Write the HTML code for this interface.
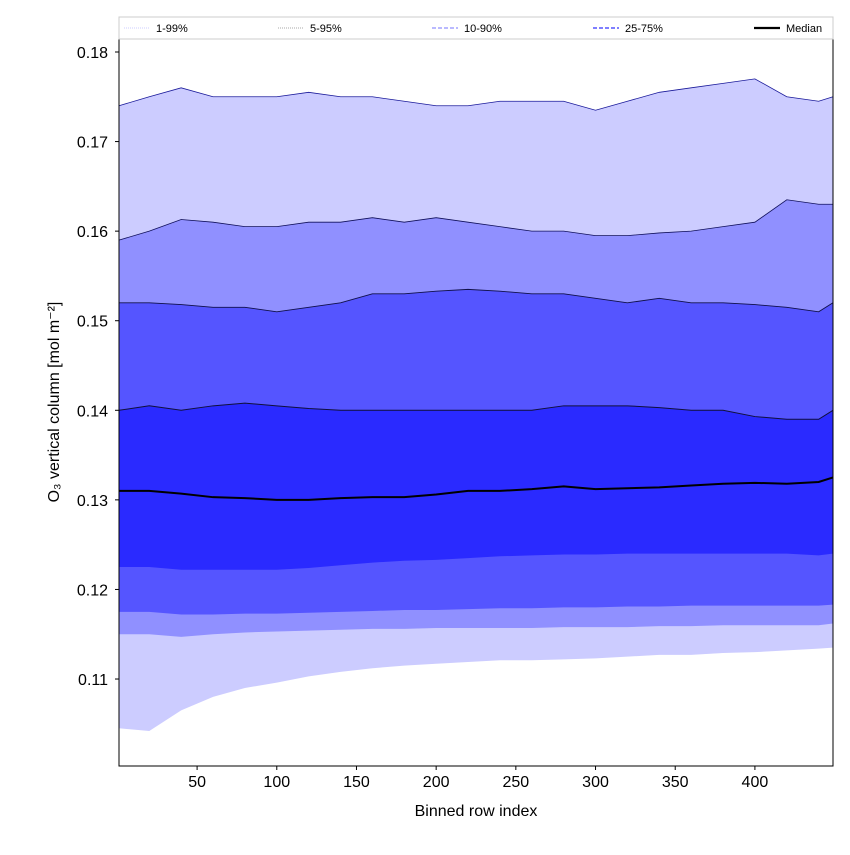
<!DOCTYPE html>
<html><head><meta charset="utf-8"><style>
body{margin:0;background:#fff;font-family:"Liberation Sans","DejaVu Sans",sans-serif;}
svg text{font-family:"Liberation Sans","DejaVu Sans",sans-serif;}
</style></head><body>
<svg id="chart" width="850" height="850" xmlns="http://www.w3.org/2000/svg">
<rect width="850" height="850" fill="#fff"/>
<g id="bands"></g>
<g id="axes"></g>
<g id="legend"></g>
</svg>
<script>
const xs=[1,20,40,60,80,100,120,140,160,180,200,220,240,260,280,300,320,340,360,380,400,420,440,449];
const p99=[0.174,0.175,0.176,0.175,0.175,0.175,0.1755,0.175,0.175,0.1745,0.174,0.174,0.1745,0.1745,0.1745,0.1735,0.1745,0.1755,0.176,0.1765,0.177,0.175,0.1745,0.175];
const p95=[0.159,0.160,0.1613,0.161,0.1605,0.1605,0.161,0.161,0.1615,0.161,0.1615,0.161,0.1605,0.160,0.160,0.1595,0.1595,0.1598,0.160,0.1605,0.161,0.1635,0.163,0.163];
const p90=[0.152,0.152,0.1518,0.1515,0.1515,0.151,0.1515,0.152,0.153,0.153,0.1533,0.1535,0.1533,0.153,0.153,0.1525,0.152,0.1525,0.152,0.152,0.1518,0.1515,0.151,0.152];
const p75=[0.140,0.1405,0.140,0.1405,0.1408,0.1405,0.1402,0.140,0.140,0.140,0.140,0.140,0.140,0.140,0.1405,0.1405,0.1405,0.1403,0.140,0.140,0.1393,0.139,0.139,0.140];
const median=[0.131,0.131,0.1307,0.1303,0.1302,0.130,0.130,0.1302,0.1303,0.1303,0.1306,0.131,0.131,0.1312,0.1315,0.1312,0.1313,0.1314,0.1316,0.1318,0.1319,0.1318,0.132,0.1325];
const p25=[0.1225,0.1225,0.1222,0.1222,0.1222,0.1222,0.1224,0.1227,0.1230,0.1232,0.1233,0.1235,0.1237,0.1238,0.1239,0.1239,0.1240,0.1240,0.1240,0.1240,0.1240,0.1240,0.1238,0.1240];
const p10=[0.1175,0.1175,0.1172,0.1172,0.1173,0.1173,0.1174,0.1175,0.1176,0.1177,0.1177,0.1178,0.1179,0.1179,0.1180,0.1180,0.1181,0.1181,0.1182,0.1182,0.1182,0.1182,0.1182,0.1183];
const p5=[0.1150,0.1150,0.1147,0.1150,0.1152,0.1153,0.1154,0.1155,0.1156,0.1156,0.1157,0.1157,0.1157,0.1157,0.1158,0.1158,0.1158,0.1159,0.1159,0.1160,0.1160,0.1160,0.1160,0.1162];
const p1=[0.1045,0.1042,0.1065,0.108,0.109,0.1096,0.1103,0.1108,0.1112,0.1115,0.1117,0.1119,0.1121,0.1121,0.1122,0.1123,0.1125,0.1127,0.1127,0.1129,0.1130,0.1132,0.1134,0.1135];
const xTicks=[50,100,150,200,250,300,350,400];
const yTicks=[0.11,0.12,0.13,0.14,0.15,0.16,0.17,0.18];

const L=119,R=833,T=39,B=766;
const X0=1,X1=449,Y0=0.10029,Y1=0.18145;
const sx=v=>L+(v-X0)/(X1-X0)*(R-L);
const sy=v=>B-(v-Y0)/(Y1-Y0)*(B-T);
const NS="http://www.w3.org/2000/svg";
function mk(tag,attrs,parent){const e=document.createElementNS(NS,tag);for(const k in attrs)e.setAttribute(k,attrs[k]);parent.appendChild(e);return e;}
const bands=document.getElementById('bands'),axes=document.getElementById('axes'),leg=document.getElementById('legend');
function band(lo,hi,color,name){
  let d='M'+xs.map((x,i)=>sx(x)+','+sy(hi[i])).join('L');
  for(let i=xs.length-1;i>=0;i--)d+='L'+sx(xs[i])+','+sy(lo[i]);
  const p=mk('path',{d:d+'Z',fill:color},bands);
  
  
}
function line(v,color,w,name){
  const p=mk('path',{d:'M'+xs.map((x,i)=>sx(x)+','+sy(v[i])).join('L'),fill:'none',stroke:color,'stroke-width':w},bands);
  
  
}
band(p1,p99,'#ccccff','band-1-99');
band(p5,p95,'#9090ff','band-5-95');
band(p10,p90,'#5555ff','band-10-90');
band(p25,p75,'#2a2aff','band-25-75');
line(p99,'#1a1a9a',0.8,'line-p99');
line(p95,'#10105a',0.8,'line-p95');
line(p90,'#10104a',0.9,'line-p90');
line(p75,'#10103a',1,'line-p75');
line(median,'#000',2,'median-line');

const fr=mk('rect',{x:L,y:T,width:R-L,height:B-T,fill:'none',stroke:'#000','stroke-width':1},axes);


xTicks.forEach(t=>{
  mk('line',{x1:sx(t),x2:sx(t),y1:B,y2:B+4,stroke:'#000'},axes);
  const tx=mk('text',{x:sx(t),y:B+21,'text-anchor':'middle','font-size':16},axes);tx.textContent=t;
  
  
});
yTicks.forEach(t=>{
  mk('line',{x1:L-4,x2:L,y1:sy(t),y2:sy(t),stroke:'#000'},axes);
  const tx=mk('text',{x:L-11,y:sy(t)+6,'text-anchor':'end','font-size':16},axes);tx.textContent=t.toFixed(2);
  
  
});
const xt=mk('text',{x:(L+R)/2,y:816,'text-anchor':'middle','font-size':16},axes);xt.textContent='Binned row index';


const yt=mk('text',{x:0,y:0,'text-anchor':'middle','font-size':16,transform:'translate(59,402) rotate(-90)'},axes);yt.textContent='O₃ vertical column [mol m⁻²]';



mk('rect',{x:119,y:17,width:714,height:22,fill:'#fff',stroke:'#ccc'},leg);
const entries=[['1-99%','#ccccff','1,1',1,124],['5-95%','#aaaaaa','1,1',1,278],['10-90%','#9090ff','4,2',1.2,432],['25-75%','#5555ff','4,2',1.5,593],['Median','#000','',2.2,754]];
entries.forEach(e=>{
  const g=mk('g',{},leg);
  
  
  mk('line',{x1:e[4],x2:e[4]+26,y1:28,y2:28,stroke:e[1],'stroke-width':e[3],'stroke-dasharray':e[2]},g);
  const t=mk('text',{x:e[4]+32,y:32,'font-size':11},g);t.textContent=e[0];
});
</script>
</body></html>
